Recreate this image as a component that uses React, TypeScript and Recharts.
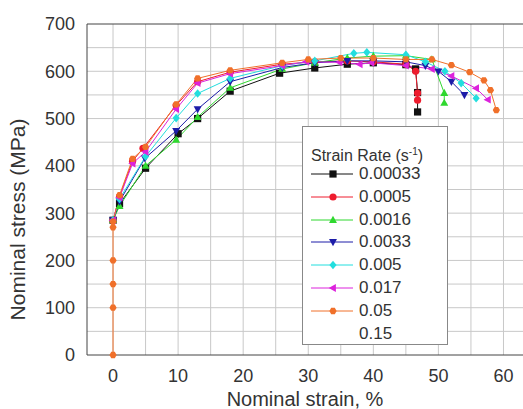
import React from "react";
import { LineChart, Line, XAxis, YAxis, CartesianGrid, Legend, ReferenceLine } from "recharts";

// strain rate labels (s^-1); last one has no curve in the figure
const RATES = ["0.00033", "0.0005", "0.0016", "0.0033", "0.005", "0.017", "0.05", "0.15"];

// [strain %, stress MPa]
const S_00033 = [[0, 285], [1, 320], [5, 395], [10, 468], [13, 500], [18, 558], [25.6, 596], [31, 607], [36, 615], [40, 618], [45, 614], [46.5, 605], [46.8, 555], [46.8, 514]];
const S_0005 = [[0, 285], [1, 335], [3, 410], [4.6, 437], [9.7, 528], [13, 578], [18, 598], [26, 615], [31, 620], [36, 622], [40, 620], [45, 615], [46.5, 600], [46.8, 554], [46.8, 539]];
const S_0016 = [[0, 285], [1, 315], [5, 400], [9.7, 455], [13, 503], [18, 565], [26, 605], [31, 618], [36, 628], [40, 632], [45, 633], [49, 625], [50.9, 554], [50.9, 533]];
const S_0033 = [[0, 285], [1, 325], [4.9, 416], [9.7, 474], [13, 520], [18, 578], [26, 608], [31, 618], [36, 622], [40, 622], [45, 620], [48, 612], [50, 600], [52, 578], [54, 550]];
const S_005 = [[0, 285], [1, 330], [5, 420], [9.7, 501], [13, 553], [18, 585], [26, 612], [31, 622], [37, 638], [39, 640], [45, 635], [48, 620], [51, 600], [53.5, 575], [55.8, 543]];
const S_017 = [[0, 285], [1, 333], [3, 405], [5, 430], [9.7, 520], [13, 575], [18, 595], [26, 612], [29.7, 620], [34.8, 619], [37.9, 615], [39.7, 618], [45, 612], [49, 605], [52, 590], [55.8, 564], [57.6, 540]];
const S_005B = [[0, 0], [0, 100], [0, 150], [0, 200], [0, 270], [0, 282], [1, 338], [3, 415], [5, 440], [9.7, 530], [13, 585], [18, 602], [26, 618], [30, 625], [35, 628], [40, 628], [45, 625], [49, 625], [52, 613], [54.8, 598], [57, 581], [58, 560], [58.9, 518]];

const X_TICKS = [0, 10, 20, 30, 40, 50, 60];
const Y_TICKS = [0, 100, 200, 300, 400, 500, 600, 700];
const X_GRID = [0, 5, 10, 15, 20, 25, 30, 35, 40, 45, 50, 55, 60];
const Y_GRID = [50, 100, 150, 200, 250, 300, 350, 400, 450, 500, 550, 600, 650];

const SERIES = [
  { name: RATES[0], data: S_00033, color: "#111111", shape: "square" },
  { name: RATES[1], data: S_0005, color: "#ee1c2e", shape: "circle" },
  { name: RATES[2], data: S_0016, color: "#2fd82f", shape: "up" },
  { name: RATES[3], data: S_0033, color: "#1c1ca8", shape: "down" },
  { name: RATES[4], data: S_005, color: "#22dede", shape: "diamond" },
  { name: RATES[5], data: S_017, color: "#dc22dc", shape: "left" },
  { name: RATES[6], data: S_005B, color: "#f0702a", shape: "hex" },
];

const FONT = "'Liberation Sans', Arial, sans-serif";

function Marker({ cx, cy, shape, color, r = 3.6 }: { cx: number; cy: number; shape: string; color: string; r?: number }) {
  const p = (pts: number[][]) => pts.map(([x, y]) => `${cx + x},${cy + y}`).join(" ");
  switch (shape) {
    case "square":
      return <rect x={cx - r} y={cy - r} width={2 * r} height={2 * r} fill={color} />;
    case "circle":
      return <circle cx={cx} cy={cy} r={r} fill={color} />;
    case "up":
      return <polygon points={p([[0, -r * 1.2], [-r * 1.1, r * 0.8], [r * 1.1, r * 0.8]])} fill={color} />;
    case "down":
      return <polygon points={p([[0, r * 1.2], [-r * 1.1, -r * 0.8], [r * 1.1, -r * 0.8]])} fill={color} />;
    case "diamond":
      return <polygon points={p([[0, -r * 1.2], [r, 0], [0, r * 1.2], [-r, 0]])} fill={color} />;
    case "left":
      return <polygon points={p([[-r * 1.2, 0], [r * 0.8, -r * 1.1], [r * 0.8, r * 1.1]])} fill={color} />;
    default:
      return <polygon points={p([[-r, 0], [-r / 2, -r * 0.87], [r / 2, -r * 0.87], [r, 0], [r / 2, r * 0.87], [-r / 2, r * 0.87]])} fill={color} />;
  }
}

function LegendBox() {
  return (
    <div style={{ position: "relative", width: 144, height: 217, border: "1px solid #888", background: "#fff", fontFamily: FONT, color: "#333" }}>
      <div style={{ position: "absolute", left: 8, top: 15, fontSize: 16, lineHeight: "20px", whiteSpace: "nowrap" }}>
        Strain Rate (s<sup style={{ fontSize: 10 }}>-1</sup>)
      </div>
      {RATES.map((rate, i) => {
        const s = SERIES[i];
        return (
          <div key={rate} style={{ position: "absolute", left: 8, top: 36 + i * 22.8, display: "flex", alignItems: "center", height: 22 }}>
            <svg width={44} height={14} style={{ marginRight: 4 }}>
              {s && <line x1={0} y1={7} x2={42} y2={7} stroke={s.color} strokeWidth={1} />}
              {s && <Marker cx={22} cy={7} shape={s.shape} color={s.color} />}
            </svg>
            <span style={{ fontSize: 17, lineHeight: "22px" }}>{rate}</span>
          </div>
        );
      })}
    </div>
  );
}

export default function App() {
  return (
    <div style={{ position: "absolute", left: 0, top: 0, background: "#fff" }}>
      <LineChart width={523} height={409} margin={{ top: 24, right: 0, bottom: 24, left: 0 }}>
        <CartesianGrid stroke="#c8c8c8" strokeWidth={1} verticalValues={X_GRID} horizontalValues={Y_GRID} />
        <XAxis
          type="number"
          dataKey="x"
          domain={[-4, 63]}
          ticks={X_TICKS}
          allowDataOverflow
          height={30}
          stroke="#444"
          tickLine={false}
          tick={{ fill: "#333", fontSize: 18, fontFamily: FONT }}
          tickMargin={8}
          label={{ value: "Nominal strain, %", position: "insideBottom", offset: -21, fill: "#333", fontSize: 20, fontFamily: FONT }}
        />
        <YAxis
          type="number"
          domain={[0, 700]}
          ticks={Y_TICKS}
          width={87}
          stroke="#444"
          tickLine={false}
          tick={{ fill: "#333", fontSize: 18, fontFamily: FONT }}
          tickMargin={6}
          label={{ value: "Nominal stress (MPa)", angle: -90, position: "insideLeft", offset: 18, dy: 30, fill: "#333", fontSize: 21, fontFamily: FONT, style: { textAnchor: "middle" } }}
        />
        <ReferenceLine y={700} stroke="#444" />
        {SERIES.map((s) => (
          <Line
            key={s.name}
            data={s.data.map(([x, y]) => ({ x, y }))}
            dataKey="y"
            name={s.name}
            stroke={s.color}
            strokeWidth={1}
            isAnimationActive={false}
            dot={(p: any) => <Marker key={`${s.name}-${p.index}`} cx={p.cx} cy={p.cy} shape={s.shape} color={s.color} />}
            activeDot={false}
          />
        ))}
        <Legend
          layout="vertical"
          align="center"
          verticalAlign="middle"
          content={() => <LegendBox />}
          wrapperStyle={{ left: 302, top: 126, width: 146, height: 219 }}
        />
      </LineChart>
    </div>
  );
}
